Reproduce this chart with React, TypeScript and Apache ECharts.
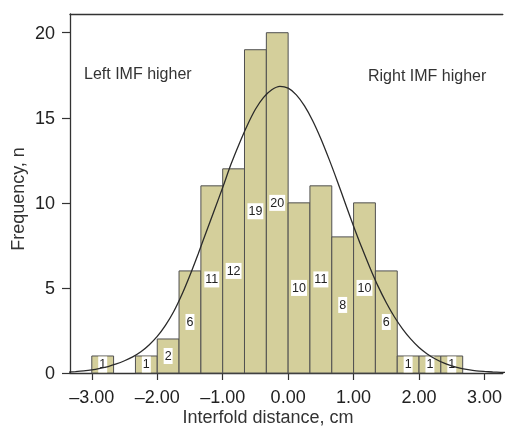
import React, { useEffect, useRef } from "react";
import * as echarts from "echarts";

// Histogram bins (edges in cm) and counts
const binEdges = [-3.0, -2.667, -2.333, -2.0, -1.667, -1.333, -1.0, -0.667, -0.333, 0.0, 0.333, 0.667, 1.0, 1.333, 1.667, 2.0, 2.333, 2.667];
const counts = [1, 0, 1, 2, 6, 11, 12, 19, 20, 10, 11, 8, 10, 6, 1, 1, 1];

// Fitted normal curve (x in cm, y in counts)
const curveX = [
  -3.375, -3.25, -3.125, -3.0, -2.875, -2.75, -2.625, -2.5, -2.375, -2.25, -2.125, -2.0, -1.875, -1.75, -1.625, -1.5,
  -1.375, -1.25, -1.125, -1.0, -0.875, -0.75, -0.625, -0.5, -0.375, -0.25, -0.125, 0.0, 0.125, 0.25, 0.375, 0.5,
  0.625, 0.75, 0.875, 1.0, 1.125, 1.25, 1.375, 1.5, 1.625, 1.75, 1.875, 2.0, 2.125, 2.25, 2.375, 2.5,
  2.625, 2.75, 2.875, 3.0, 3.125, 3.25, 3.375,
];
const curveY = [
  0.05, 0.08, 0.12, 0.18, 0.27, 0.38, 0.53, 0.72, 0.95, 1.25, 1.65, 2.15, 2.8, 3.6, 4.6, 5.75,
  7.0, 8.3, 9.6, 10.9, 12.25, 13.45, 14.55, 15.5, 16.2, 16.65, 16.85, 16.74, 16.35, 15.7, 14.83, 13.77,
  12.57, 11.29, 9.95, 8.63, 7.37, 6.19, 5.09, 4.13, 3.29, 2.58, 1.99, 1.5, 1.12, 0.82, 0.59, 0.42,
  0.29, 0.2, 0.13, 0.09, 0.06, 0.04, 0.025,
];

const xTicks = [-3, -2, -1, 0, 1, 2, 3];
const yTicks = [0, 5, 10, 15, 20];

const FONT = "Liberation Sans, Arial, Helvetica, sans-serif";

export default function App() {
  const ref = useRef<HTMLDivElement>(null);
  useEffect(() => {
    if (!ref.current) return;
    const chart = echarts.init(ref.current, undefined, { renderer: "svg" });
    const barData = counts.map((c, i) => [binEdges[i], binEdges[i + 1] ?? binEdges[i] + 0.333, c]);
    const curveData = curveX.map((x, i) => [x, curveY[i]]);
    const xMin = -3.333;
    const xMax = 3.28;
    chart.setOption({
      animation: false,
      textStyle: { fontFamily: FONT },
      grid: { left: 70, right: 0, top: 14, bottom: 55 },
      xAxis: [
        {
          type: "value",
          min: xMin,
          max: xMax,
          position: "bottom",
          axisLine: { show: true, onZero: false, lineStyle: { color: "#333", width: 1.3 } },
          axisTick: { show: true, length: 7, customValues: xTicks, lineStyle: { color: "#333", width: 1.2 } },
          axisLabel: {
            customValues: xTicks,
            margin: 15,
            fontSize: 18,
            color: "#222",
            fontFamily: FONT,
            formatter: (v: number) => (v < 0 ? "\u2013" : "") + Math.abs(v).toFixed(2),
          },
          splitLine: { show: false },
        },
        {
          type: "value",
          min: xMin,
          max: xMax,
          position: "top",
          axisLine: { show: true, onZero: false, lineStyle: { color: "#333", width: 1.3 } },
          axisTick: { show: false },
          axisLabel: { show: false },
          splitLine: { show: false },
        },
      ],
      yAxis: {
        type: "value",
        min: 0,
        max: 21.1,
        position: "left",
        axisLine: { show: true, onZero: false, lineStyle: { color: "#333", width: 1.3 } },
        axisTick: { show: true, length: 8, customValues: yTicks, lineStyle: { color: "#333", width: 1.2 } },
        axisLabel: { customValues: yTicks, margin: 15, fontSize: 18, color: "#222", fontFamily: FONT },
        splitLine: { show: false },
      },
      series: [
        {
          type: "custom",
          xAxisIndex: 0,
          encode: { x: [0, 1], y: 2 },
          data: barData,
          z: 2,
          renderItem: (params: any, api: any) => {
            const x0 = api.value(0);
            const x1 = api.value(1);
            const y = api.value(2);
            if (!y) return null;
            const p0 = api.coord([x0, y]);
            const p1 = api.coord([x1, 0]);
            return {
              type: "group",
              children: [
                {
                  type: "rect",
                  shape: { x: p0[0], y: p0[1], width: p1[0] - p0[0], height: p1[1] - p0[1] },
                  style: { fill: "#d4cf9b", stroke: "#505050", lineWidth: 1 },
                },
                {
                  type: "text",
                  z2: 10,
                  style: {
                    text: String(y),
                    x: (p0[0] + p1[0]) / 2,
                    y: (p0[1] + p1[1]) / 2,
                    align: "center",
                    verticalAlign: "middle",
                    fontSize: 12.5,
                    fontFamily: FONT,
                    fill: "#222",
                    backgroundColor: "#ffffff",
                    padding: [2, 1, 1, 1],
                  },
                },
              ],
            };
          },
        },
        {
          type: "line",
          xAxisIndex: 0,
          data: curveData,
          smooth: 0.3,
          showSymbol: false,
          clip: true,
          z: 3,
          lineStyle: { color: "#2a2a2a", width: 1.3 },
        },
      ],
      graphic: [
        {
          type: "text",
          style: { text: "Left IMF higher", x: 84, y: 73, verticalAlign: "middle", fontSize: 16, fontFamily: FONT, fill: "#333" },
        },
        {
          type: "text",
          style: { text: "Right IMF higher", x: 368, y: 75, verticalAlign: "middle", fontSize: 16, fontFamily: FONT, fill: "#333" },
        },
        {
          type: "text",
          x: 268,
          y: 417,
          style: { text: "Interfold distance, cm", align: "center", verticalAlign: "middle", fontSize: 18, fontFamily: FONT, fill: "#333" },
        },
        {
          type: "text",
          x: 18,
          y: 199,
          rotation: Math.PI / 2,
          style: { text: "Frequency, n", align: "center", verticalAlign: "middle", fontSize: 18, fontFamily: FONT, fill: "#333" },
        },
      ],
    });
    return () => chart.dispose();
  }, []);
  return <div ref={ref} style={{ position: "fixed", left: 0, top: 0, width: 505, height: 428 }} />;
}
